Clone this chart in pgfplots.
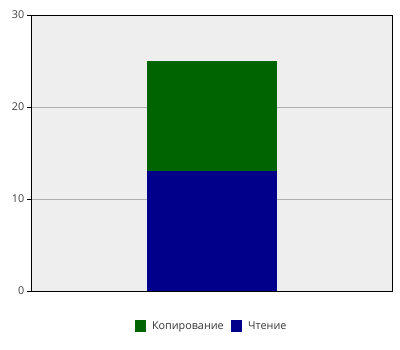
\documentclass[border=0pt]{standalone}
\usepackage{pgfplots}
\pgfplotsset{compat=1.18}
\usepackage{fontspec}
\setmainfont{Open Sans}
\definecolor{cgreen}{HTML}{006400}
\definecolor{cblue}{HTML}{00008B}
\definecolor{cbg}{HTML}{EEEEEE}
\definecolor{cgrid}{HTML}{B0B0B0}
\begin{document}
\fontsize{10.8bp}{13bp}\selectfont
\begin{tikzpicture}
\path[use as bounding box] (-31bp,-59bp) rectangle (369bp,291bp);
\begin{axis}[
  at={(0,0)}, anchor=origin,
  scale only axis, width=361bp, height=276bp,
  xmin=0, xmax=1, ymin=0, ymax=30,
  ytick={0,10,20,30}, xtick=\empty, ytick pos=left,
  ymajorgrids, grid style={cgrid, line width=0.8bp},
  axis background/.style={fill=cbg},
  axis line style={black, line width=0.9bp},
  tick align=outside, major tick length=4bp,
  ytick style={black, line width=0.8bp},
  yticklabel style={font=\fontsize{10.8bp}{13bp}\selectfont, color=black!75, xshift=1bp},
  /pgf/number format/assume math mode=true,
  ybar stacked, bar width=130bp,
  legend columns=2, reverse legend,
  legend style={draw=none, fill=none, at={(0.5,-0.127)}, anchor=center,
    font=\fontsize{10.8bp}{13bp}\selectfont, text=black!80,
    /tikz/every odd column/.append style={column sep=4bp},
    /tikz/every even column/.append style={column sep=5bp}},
  legend image code/.code={\fill[#1] (0bp,-5.5bp) rectangle (11.5bp,6bp);},
]
\addplot[fill=cblue, draw=none] coordinates {(0.5,13)};
\addplot[fill=cgreen, draw=none] coordinates {(0.5,12)};
\legend{Чтение, Копирование}
\end{axis}
\end{tikzpicture}
\end{document}
